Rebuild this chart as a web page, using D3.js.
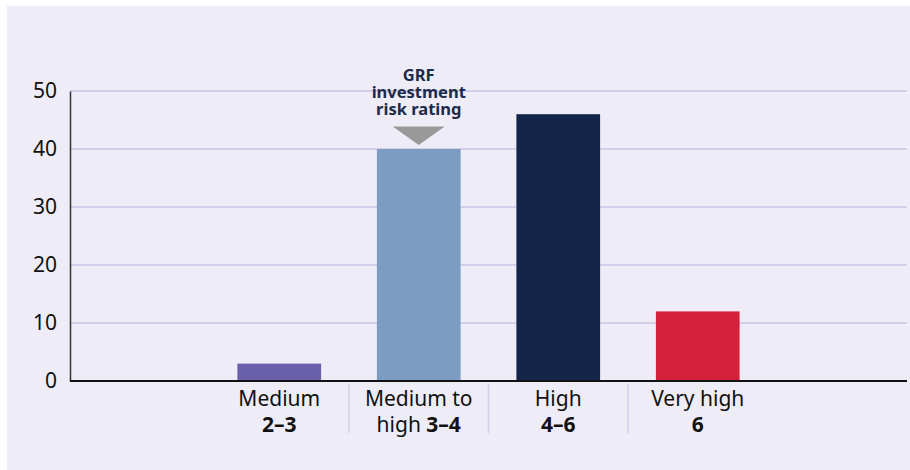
<!DOCTYPE html>
<html><head><meta charset="utf-8">
<script src="https://cdn.jsdelivr.net/npm/d3@7"></script>
<style>
html,body{margin:0;padding:0;background:#ffffff;}
svg{display:block;}
text{font-family:"Noto Sans",sans-serif;}
</style></head>
<body>
<svg id="chart" width="910" height="470"></svg>
<script>
const categories = ["", "Medium", "Medium to high", "High", "Very high", " "];
const labelLine1 = ["", "Medium", "Medium to", "High", "Very high", ""];
const labelLine2Pre = ["", "", "high ", "", "", ""];
const labelLine2Bold = ["", "2–3", "3–4", "4–6", "6", ""];
const values = [null, 3, 40, 46, 12, null];
const colors = ["none", "#6a5fab", "#7d9cc1", "#13264a", "#d5203c", "none"];
const yTicks = [0, 10, 20, 30, 40, 50];
const annotation = ["GRF", "investment", "risk rating"];
const annotatedCategory = "Medium to high";

const FONT = "'Noto Sans', sans-serif";
const svg = d3.select("#chart");
svg.append("rect").attr("x", 7).attr("y", 6).attr("width", 903).attr("height", 464).attr("fill", "#eeecf6");

const x0 = 70, x1 = 907, yTop = 91, yBot = 381;
const x = d3.scaleBand().domain(categories).range([x0, x1]).paddingInner(0.4).paddingOuter(0.2);
const y = d3.scaleLinear().domain([0, 50]).range([yBot, yTop]);

// gridlines
svg.append("g").selectAll("line").data(yTicks.filter(d => d > 0)).join("line")
  .attr("x1", x0).attr("x2", x1).attr("y1", d => y(d)).attr("y2", d => y(d))
  .attr("stroke", "#d3cfe8").attr("stroke-width", 2);

// bars
const bd = categories.map((c, i) => ({c, v: values[i], col: colors[i]})).filter(d => d.v != null);
svg.append("g").selectAll("rect").data(bd).join("rect")
  .attr("x", d => x(d.c)).attr("width", x.bandwidth())
  .attr("y", d => y(d.v)).attr("height", d => y(0) - y(d.v))
  .attr("fill", d => d.col);

// y axis
const yAxis = d3.axisLeft(y).tickValues(yTicks).tickSize(0).tickPadding(13);
const ga = svg.append("g").attr("transform", `translate(${x0},0)`).call(yAxis);
ga.select(".domain").attr("stroke", "#333").attr("stroke-width", 1.5);
ga.selectAll("text").attr("font-size", 21).attr("fill", "#111").attr("font-family", FONT);

// x axis baseline
svg.append("line").attr("x1", x0).attr("x2", x1).attr("y1", y(0)).attr("y2", y(0))
  .attr("stroke", "#111").attr("stroke-width", 2);

// separators between labelled categories
const step = x.step();
const seps = [2, 3, 4].map(i => x(categories[i]) - (step - x.bandwidth()) / 2);
svg.append("g").selectAll("line").data(seps).join("line")
  .attr("x1", d => d).attr("x2", d => d).attr("y1", y(0) + 3).attr("y2", 433)
  .attr("stroke", "#d3cfe8").attr("stroke-width", 1.5);

// category labels
const lg = svg.append("g");
categories.forEach((c, i) => {
  if (!labelLine1[i]) return;
  const cx = x(c) + x.bandwidth() / 2;
  lg.append("text").attr("x", cx).attr("y", 406).attr("text-anchor", "middle")
    .attr("font-size", 21).attr("fill", "#111").text(labelLine1[i]);
  const t = lg.append("text").attr("x", cx).attr("y", 431.5).attr("text-anchor", "middle")
    .attr("font-size", 21).attr("fill", "#111");
  if (labelLine2Pre[i]) t.append("tspan").text(labelLine2Pre[i]);
  t.append("tspan").attr("font-weight", "bold").text(labelLine2Bold[i]);
});

// annotation
const ax = x(annotatedCategory) + x.bandwidth() / 2;
const ag = svg.append("g");
annotation.forEach((s, i) => {
  ag.append("text").attr("x", ax).attr("y", 81 + i * 17.2).attr("text-anchor", "middle")
    .attr("font-size", 16.5).attr("font-weight", "bold").attr("fill", "#1c2b4c").text(s);
});
ag.append("path").attr("d", `M${ax - 26},126.5 L${ax + 26},126.5 L${ax},145 Z`).attr("fill", "#999999");
</script>
</body></html>
